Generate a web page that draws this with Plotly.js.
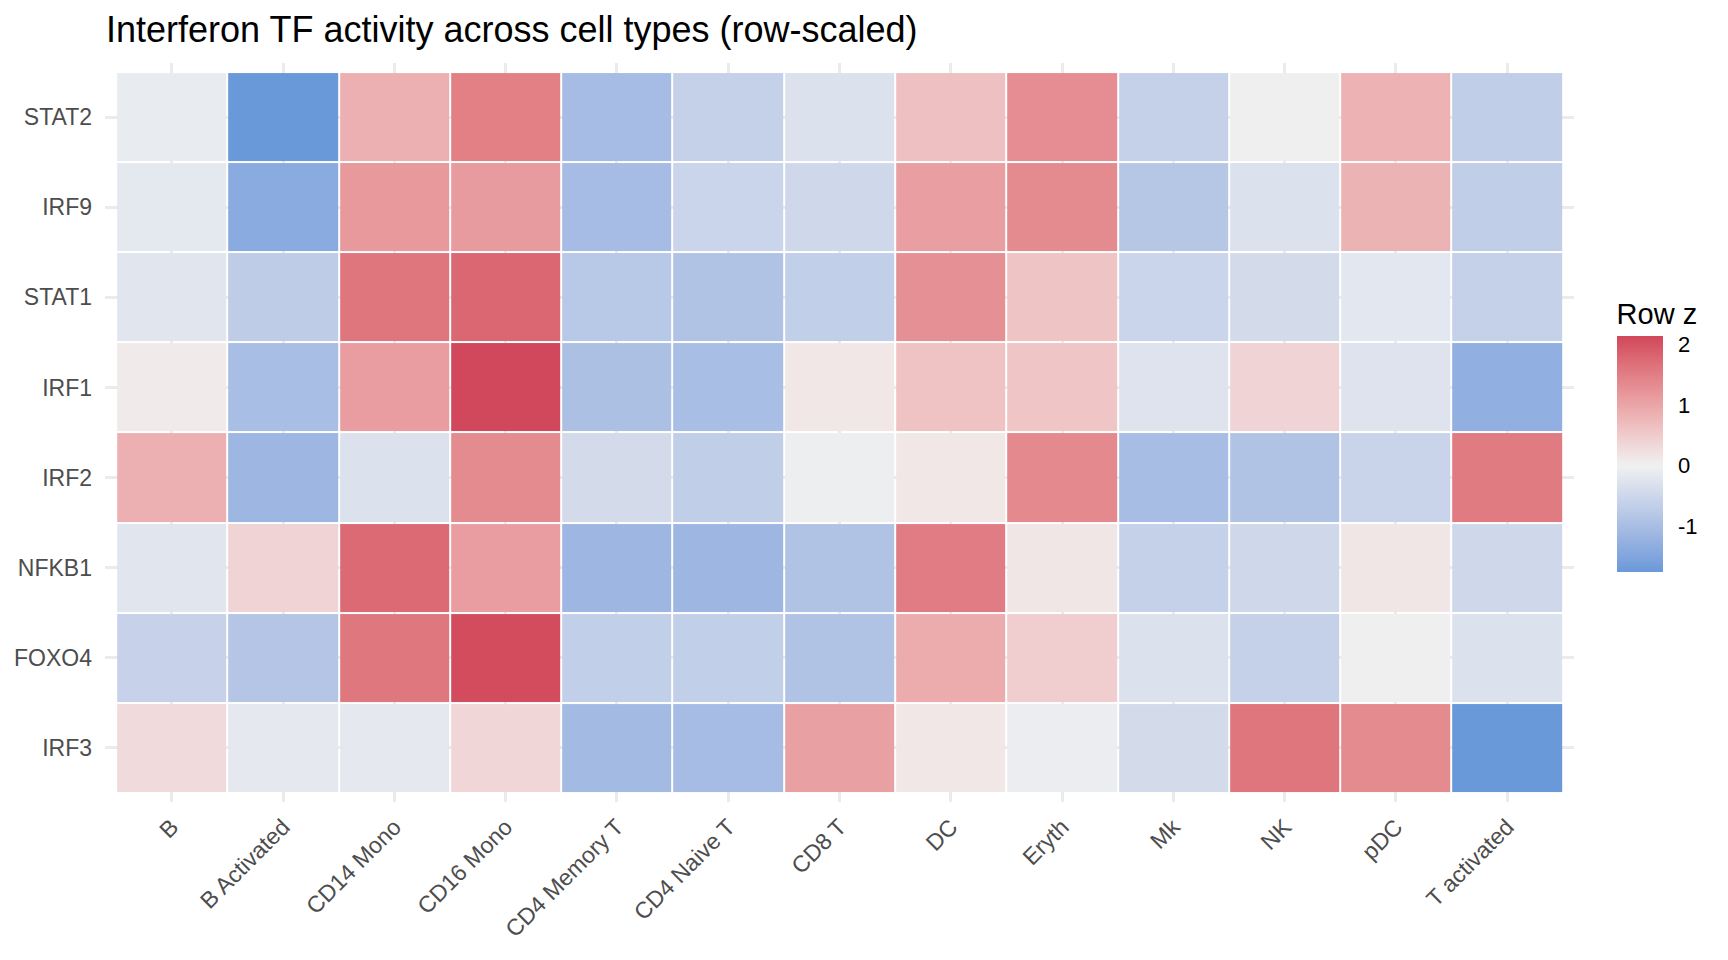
<!DOCTYPE html>
<html>
<head>
<meta charset="utf-8">
<script src="https://cdn.plot.ly/plotly-3.0.1.min.js"></script>
<style>
  html, body { margin: 0; padding: 0; background: #ffffff; }
  #chart { width: 1728px; height: 960px; }
</style>
</head>
<body>
<div id="chart"></div>
<script>
// Cell types (columns) and transcription factors (rows, top to bottom)
const cellTypes = ['B', 'B Activated', 'CD14 Mono', 'CD16 Mono', 'CD4 Memory T', 'CD4 Naive T',
                   'CD8 T', 'DC', 'Eryth', 'Mk', 'NK', 'pDC', 'T activated'];
const regulators = ['STAT2', 'IRF9', 'STAT1', 'IRF1', 'IRF2', 'NFKB1', 'FOXO4', 'IRF3'];

// Row-scaled (z-score) TF activity per cell type
const STAT2 = [-0.12, -1.76, 0.85, 1.47, -1.04, -0.61, -0.29, 0.64, 1.30, -0.61, -0.03, 0.83, -0.68];
const IRF9  = [-0.18, -1.39, 1.15, 1.13, -1.04, -0.55, -0.48, 1.08, 1.32, -0.82, -0.31, 0.81, -0.68];
const STAT1 = [-0.22, -0.72, 1.59, 1.78, -0.80, -0.90, -0.66, 1.26, 0.59, -0.55, -0.42, -0.20, -0.61];
const IRF1  = [0.08, -1.00, 1.10, 2.13, -0.96, -1.00, 0.13, 0.60, 0.58, -0.27, 0.37, -0.27, -1.30];
const IRF2  = [0.85, -1.16, -0.29, 1.32, -0.42, -0.68, -0.06, 0.12, 1.34, -1.02, -0.90, -0.56, 1.53];
const NFKB1 = [-0.22, 0.39, 1.74, 1.10, -1.16, -1.16, -0.90, 1.51, 0.14, -0.61, -0.48, 0.14, -0.48];
const FOXO4 = [-0.59, -0.85, 1.58, 2.08, -0.66, -0.66, -0.90, 0.91, 0.47, -0.31, -0.61, -0.03, -0.31];
const IRF3  = [0.30, -0.17, -0.17, 0.35, -1.08, -1.04, 1.06, 0.12, -0.08, -0.43, 1.60, 1.32, -1.76];

// Colour bar ticks
const barTickVals = [-1, 0, 1, 2];
const barTickText = ['-1', '0', '1', '2'];

const zRows = [STAT2, IRF9, STAT1, IRF1, IRF2, NFKB1, FOXO4, IRF3];

// ---- diverging palette interpolated in CIE Lab, centred on zero ----
function hexToRgb(h) {
  h = h.replace('#', '');
  return [0, 2, 4].map(i => parseInt(h.substr(i, 2), 16) / 255);
}
function srgbToLin(c) { return c <= 0.04045 ? c / 12.92 : Math.pow((c + 0.055) / 1.055, 2.4); }
function linToSrgb(c) { return c <= 0.0031308 ? 12.92 * c : 1.055 * Math.pow(c, 1 / 2.4) - 0.055; }
const WP = [0.95047, 1.0, 1.08883];
function hexToLab(h) {
  const [r, g, b] = hexToRgb(h).map(srgbToLin);
  const X = (0.4124 * r + 0.3576 * g + 0.1805 * b) / WP[0];
  const Y = (0.2126 * r + 0.7152 * g + 0.0722 * b) / WP[1];
  const Z = (0.0193 * r + 0.1192 * g + 0.9505 * b) / WP[2];
  const f = t => t > 216 / 24389 ? Math.cbrt(t) : (24389 / 27 * t + 16) / 116;
  const fx = f(X), fy = f(Y), fz = f(Z);
  return [116 * fy - 16, 500 * (fx - fy), 200 * (fy - fz)];
}
function labToHex(lab) {
  const [L, a, bb] = lab;
  const fy = (L + 16) / 116, fx = fy + a / 500, fz = fy - bb / 200;
  const inv = t => t * t * t > 216 / 24389 ? t * t * t : (116 * t - 16) / (24389 / 27);
  const X = inv(fx) * WP[0], Y = inv(fy) * WP[1], Z = inv(fz) * WP[2];
  const r = 3.2406 * X - 1.5372 * Y - 0.4986 * Z;
  const g = -0.9689 * X + 1.8758 * Y + 0.0415 * Z;
  const b = 0.0557 * X - 0.2040 * Y + 1.0570 * Z;
  return '#' + [r, g, b].map(c => {
    const v = Math.round(Math.min(1, Math.max(0, linToSrgb(c))) * 255);
    return v.toString(16).padStart(2, '0');
  }).join('');
}

const lowLab = hexToLab('#4088d4');
const midLab = hexToLab('#f1f1f1');
const highLab = hexToLab('#d1475b');

const allVals = zRows.flat();
const zMin = Math.min(...allVals);
const zMax = Math.max(...allVals);
const half = Math.max(Math.abs(zMin), Math.abs(zMax));

const nStops = 60;
const colorscale = [];
for (let i = 0; i < nStops; i++) {
  const p = i / (nStops - 1);
  const v = zMin + p * (zMax - zMin);
  const t = Math.min(1, Math.abs(v) / half);
  const end = v < 0 ? lowLab : highLab;
  const lab = midLab.map((m, k) => m + t * (end[k] - m));
  colorscale.push([p, labToHex(lab)]);
}

const FONT = 'Liberation Sans, Arial, sans-serif';

const trace = {
  type: 'heatmap',
  x: cellTypes,
  y: regulators,
  z: zRows,
  zmin: zMin,
  zmax: zMax,
  colorscale: colorscale,
  xgap: 2,
  ygap: 2,
  hovertemplate: '%{y} · %{x}<br>z = %{z:.2f}<extra></extra>',
  colorbar: {
    title: { text: 'Row z', side: 'top', font: { family: FONT, size: 29, color: '#000000' } },
    thickness: 46, thicknessmode: 'pixels',
    len: 273, lenmode: 'pixels',
    x: 1.029, xanchor: 'left', xref: 'paper',
    y: (802 - 436) / 739, yanchor: 'middle',
    xpad: 0, ypad: 0,
    outlinewidth: 0,
    tickmode: 'array',
    tickvals: barTickVals,
    ticktext: barTickText,
    ticks: 'outside', ticklen: 11, tickcolor: '#ffffff', tickwidth: 1,
    tickfont: { family: FONT, size: 22, color: '#000000' }
  }
};

const axisFont = { family: FONT, size: 23, color: '#4d4d4d' };

const layout = {
  width: 1728,
  height: 960,
  margin: { l: 105, r: 154, t: 63, b: 158 },
  paper_bgcolor: '#ffffff',
  plot_bgcolor: '#ffffff',
  font: { family: FONT },
  title: {
    text: 'Interferon TF activity across cell types (row-scaled)',
    font: { family: FONT, size: 36, color: '#000000' },
    xref: 'container', x: 106 / 1728, xanchor: 'left',
    yref: 'container', y: 1 - 29 / 960, yanchor: 'middle'
  },
  xaxis: {
    type: 'category',
    categoryorder: 'array',
    categoryarray: cellTypes,
    range: [-0.6, cellTypes.length - 0.4],
    showgrid: true, gridcolor: '#ebebeb', gridwidth: 2.5,
    zeroline: false, showline: false, ticks: '',
    tickangle: -45,
    tickfont: axisFont,
    ticklabelstandoff: 6
  },
  yaxis: {
    type: 'category',
    categoryorder: 'array',
    categoryarray: regulators,
    range: [regulators.length - 0.4, -0.6],
    showgrid: true, gridcolor: '#ebebeb', gridwidth: 2.5,
    zeroline: false, showline: false, ticks: '',
    tickfont: axisFont,
    ticklabelstandoff: 12
  }
};

Plotly.newPlot('chart', [trace], layout, { displayModeBar: false, responsive: false });
</script>
</body>
</html>
